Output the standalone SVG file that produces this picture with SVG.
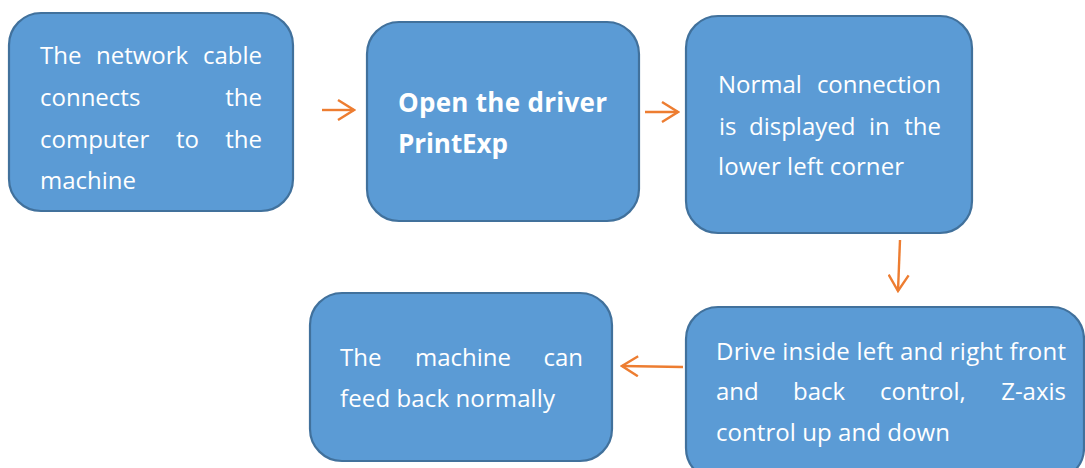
<svg xmlns="http://www.w3.org/2000/svg" width="1085" height="468" viewBox="0 0 1085 468">
<style>
.box{fill:#5B9BD5;stroke:#41719C;stroke-width:2.2}
.t{font-family:"Open Sans","Noto Sans",sans-serif;font-size:24px;fill:#FFFFFF}
.b{font-family:"Open Sans","Noto Sans",sans-serif;font-size:26px;font-weight:bold;fill:#FFFFFF}
.e{text-anchor:end}
.c{fill:none;stroke:#ED7D31;stroke-width:2.4}
</style>
<defs>
<marker id="ah" markerUnits="userSpaceOnUse" viewBox="-18 -11 20 22" refX="0" refY="0" markerWidth="20" markerHeight="22" orient="auto">
<polyline points="-16,-10 0,0 -16,10" fill="none" stroke="#ED7D31" stroke-width="2.4"/>
</marker>
</defs>
<g id="connectors">
<line class="c" x1="322" y1="110" x2="354" y2="110" marker-end="url(#ah)"/>
<line class="c" x1="645" y1="112" x2="678" y2="112" marker-end="url(#ah)"/>
<line class="c" x1="900" y1="240" x2="898" y2="291" marker-end="url(#ah)"/>
<line class="c" x1="683" y1="367" x2="622" y2="366" marker-end="url(#ah)"/>
</g>
<g id="n1">
<rect class="box" x="9" y="13" width="284" height="198" rx="32"/>
<text class="t" x="40" y="64">The</text>
<text class="t" x="96" y="64">network</text>
<text class="t e" x="262" y="64">cable</text>
<text class="t" x="40" y="106">connects</text>
<text class="t e" x="262" y="106">the</text>
<text class="t" x="40" y="148">computer</text>
<text class="t" x="176" y="148">to</text>
<text class="t e" x="262" y="148">the</text>
<text class="t" x="40" y="189" textLength="96">machine</text>
</g>
<g id="n2">
<rect class="box" x="367" y="22" width="272" height="199" rx="32"/>
<text class="b" x="398" y="112" textLength="209">Open the driver</text>
<text class="b" x="398" y="153" textLength="110">PrintExp</text>
</g>
<g id="n3">
<rect class="box" x="686" y="16" width="286" height="217" rx="32"/>
<text class="t" x="718" y="93">Normal</text>
<text class="t e" x="941" y="93">connection</text>
<text class="t" x="719" y="135">is</text>
<text class="t" x="749" y="135">displayed</text>
<text class="t" x="869" y="135">in</text>
<text class="t e" x="941" y="135">the</text>
<text class="t" x="718" y="175" textLength="186">lower left corner</text>
</g>
<g id="n4">
<rect class="box" x="310" y="293" width="302" height="168" rx="32"/>
<text class="t" x="340" y="366">The</text>
<text class="t" x="415" y="366">machine</text>
<text class="t e" x="583" y="366">can</text>
<text class="t" x="340" y="407" textLength="215">feed back normally</text>
</g>
<g id="n5">
<rect class="box" x="686" y="307" width="398" height="173" rx="32"/>
<text class="t" x="716" y="360" textLength="350">Drive inside left and right front</text>
<text class="t" x="716" y="400">and</text>
<text class="t" x="793" y="400">back</text>
<text class="t" x="880" y="400">control,</text>
<text class="t e" x="1066" y="400">Z-axis</text>
<text class="t" x="716" y="441" textLength="234">control up and down</text>
</g>
</svg>
